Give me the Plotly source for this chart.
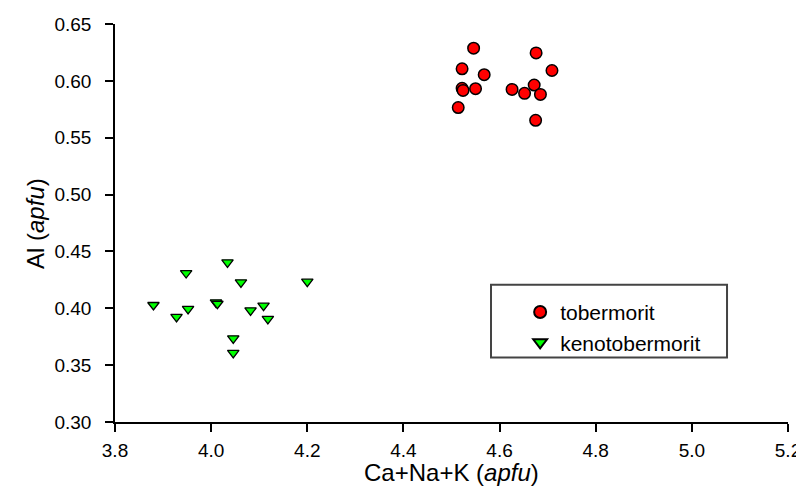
import plotly.graph_objects as go

tob_x = [4.546, 4.522, 4.568, 4.522, 4.524, 4.550, 4.514, 4.626, 4.652, 4.672, 4.685, 4.676, 4.709, 4.675]
tob_y = [0.6287, 0.6106, 0.6054, 0.5934, 0.5916, 0.5931, 0.5765, 0.5925, 0.5890, 0.5963, 0.5881, 0.6246, 0.6091, 0.5653]

keno_x = [3.880, 3.928, 3.952, 3.948, 4.010, 4.013, 4.034, 4.062, 4.200, 4.082, 4.109, 4.118, 4.046, 4.046]
keno_y = [0.4029, 0.3924, 0.3994, 0.4310, 0.4052, 0.4040, 0.4404, 0.4228, 0.4234, 0.3982, 0.4023, 0.3906, 0.3736, 0.3608]

x_ticks = [3.8, 4.0, 4.2, 4.4, 4.6, 4.8, 5.0, 5.2]
y_ticks = [0.30, 0.35, 0.40, 0.45, 0.50, 0.55, 0.60, 0.65]

x_title = "Ca+Na+K (<i>apfu</i>)"
y_title = "Al (<i>apfu</i>)"

FONT = "Arial, Liberation Sans, sans-serif"

fig = go.Figure()
fig.add_trace(go.Scatter(
    x=tob_x, y=tob_y, mode="markers", name="tobermorit",
    marker=dict(symbol="circle", size=11.5, color="#ff0000",
                line=dict(color="#000000", width=1.5)),
))
fig.add_trace(go.Scatter(
    x=keno_x, y=keno_y, mode="markers", name="kenotobermorit",
    marker=dict(symbol="triangle-down", size=10, color="#00ff00",
                line=dict(color="#000000", width=1.3)),
))

axis_common = dict(
    showgrid=False, zeroline=False, showline=True, linecolor="#000000",
    linewidth=1.5, ticks="outside", ticklen=8, tickwidth=1.5, tickcolor="#000000",
    tickfont=dict(family=FONT, size=19, color="#000000"),
    mirror=False, automargin=False,
)

fig.update_xaxes(
    range=[3.8, 5.2], tickvals=x_ticks, ticktext=[f"{v:.1f}" for v in x_ticks],
    ticklabelstandoff=2,
    **axis_common,
)
fig.update_yaxes(
    range=[0.30, 0.65], tickvals=y_ticks, ticktext=[f"{v:.2f}" for v in y_ticks],
    ticklabelstandoff=10,
    **axis_common,
)

fig.update_layout(
    width=804, height=488,
    margin=dict(l=107, r=24, t=16, b=73.5, autoexpand=False),
    paper_bgcolor="#ffffff", plot_bgcolor="#ffffff",
    showlegend=True,
    legend=dict(
        x=0.602, y=0.327, xanchor="left", yanchor="top",
        borderwidth=0, bgcolor="rgba(0,0,0,0)",
        font=dict(family=FONT, size=21, color="#000000"),
        itemsizing="constant", tracegroupgap=0,
    ),
    shapes=[dict(
        type="rect", xref="paper", yref="paper",
        x0=0.5587, x1=0.9094, y0=0.162, y1=0.345,
        line=dict(color="#444444", width=2), fillcolor="#ffffff", layer="below",
    )],
    annotations=[
        dict(text=x_title, xref="paper", yref="paper", x=0.5, y=-0.1267,
             xanchor="center", yanchor="middle", showarrow=False,
             font=dict(family=FONT, size=24, color="#000000")),
        dict(text=y_title, xref="paper", yref="paper", x=-0.1189, y=0.5,
             xanchor="center", yanchor="middle", showarrow=False, textangle=-90,
             font=dict(family=FONT, size=24, color="#000000")),
    ],
    font=dict(family=FONT),
)

fig.write_html("out.html")
